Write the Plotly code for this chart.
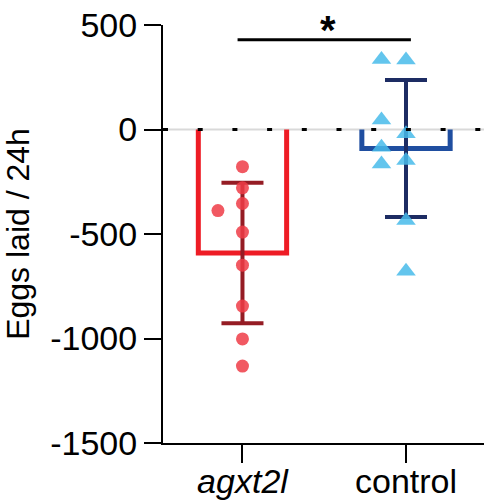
import numpy as np
import plotly.graph_objects as go

# ---- data ----
groups = ["agxt2l", "control"]
group_labels = ["<i>agxt2l</i>", "control"]
agxt2l_values = [-178, -279, -354, -388, -491, -649, -845, -1002, -1132]
agxt2l_jitter = [0, 0, 0, -0.15, 0, 0, 0, 0, 0]
control_values = [335, 333, 45, -20, -85, -148, -165, -435, -678]
control_jitter = [-0.15, 0, -0.15, 0, -0.15, 0, -0.15, 0, 0]
y_ticks = [500, 0, -500, -1000, -1500]
sig_label = "*"
sig_y = 430

# ---- styles ----
bar_colors = ["#ee1c25", "#1f4ea0"]
err_colors = ["#951c24", "#1d2c63"]
pt_colors = ["rgba(239,60,70,0.85)", "rgba(72,187,234,0.85)"]
pt_symbols = ["circle", "triangle-up"]
pt_sizes = [13, 17]
bar_half = 0.27
FONT = "Arial, Liberation Sans, sans-serif"

series = [
    (agxt2l_values, agxt2l_jitter),
    (control_values, control_jitter),
]

fig = go.Figure()

# open (U-shaped) bars at the mean
for i, (vals, _) in enumerate(series):
    m = float(np.mean(vals))
    fig.add_trace(go.Scatter(
        x=[i - bar_half, i - bar_half, i + bar_half, i + bar_half],
        y=[0, m, m, 0],
        mode="lines",
        line=dict(color=bar_colors[i], width=5),
        hoverinfo="skip", showlegend=False,
    ))

# mean +/- SD error bars
for i, (vals, _) in enumerate(series):
    m = float(np.mean(vals))
    sd = float(np.std(vals, ddof=1))
    fig.add_trace(go.Scatter(
        x=[i], y=[m], mode="markers",
        marker=dict(size=0.1, color="rgba(0,0,0,0)"),
        error_y=dict(type="data", array=[sd], visible=True,
                     color=err_colors[i], thickness=4, width=21),
        hoverinfo="skip", showlegend=False,
    ))

# individual points
for i, (vals, jit) in enumerate(series):
    fig.add_trace(go.Scatter(
        x=[i + j for j in jit], y=vals, mode="markers",
        marker=dict(symbol=pt_symbols[i], size=pt_sizes[i], color=pt_colors[i],
                    line=dict(width=0)),
        showlegend=False,
    ))

shapes = [
    # light grey zero line
    dict(type="line", xref="paper", x0=0, x1=1, yref="y", y0=0, y1=0,
         line=dict(color="#d9d9d9", width=2), layer="below"),
    # black dotted zero line
    dict(type="line", xref="paper", x0=0, x1=1, yref="y", y0=0, y1=0,
         line=dict(color="black", width=3, dash="5px,29.7px"), layer="above"),
    # significance bar
    dict(type="line", xref="x", x0=0 - 0.03, x1=1 + 0.03, yref="y", y0=sig_y, y1=sig_y,
         line=dict(color="black", width=3), layer="above"),
]

fig.update_layout(
    width=484, height=503,
    margin=dict(l=163, r=0, t=25, b=60, autoexpand=False),
    paper_bgcolor="white", plot_bgcolor="white",
    shapes=shapes,
    annotations=[dict(
        x=0.52, y=sig_y, xref="x", yref="y", text=sig_label, showarrow=False,
        font=dict(family=FONT, size=40, color="black", weight="bold"),
        yshift=-14, yanchor="bottom",
    )],
    font=dict(family=FONT, color="black"),
)

fig.update_xaxes(
    range=[-0.486, 1.477], automargin=False,
    tickmode="array", tickvals=list(range(len(groups))), ticktext=group_labels,
    showline=True, linecolor="black", linewidth=2,
    ticks="outside", ticklen=18, tickwidth=2, tickcolor="black",
    showgrid=False, zeroline=False,
    tickfont=dict(family=FONT, size=34, color="black"),
    ticklabelstandoff=-11,
)
fig.update_yaxes(
    range=[-1500, 500], automargin=False,
    tickmode="array", tickvals=y_ticks, ticktext=[str(t) for t in y_ticks],
    showline=True, linecolor="black", linewidth=2,
    ticks="outside", ticklen=17, tickwidth=2, tickcolor="black",
    showgrid=False, zeroline=False,
    tickfont=dict(family=FONT, size=34, color="black"),
    title=dict(text="Eggs laid / 24h", font=dict(family=FONT, size=32, color="black"),
               standoff=16),
)

# remove the default 8px page margin so the figure fills the 484x503 window
fig.write_html("out.html", config={"displayModeBar": False},
               post_script="document.body.style.margin='0px';")
